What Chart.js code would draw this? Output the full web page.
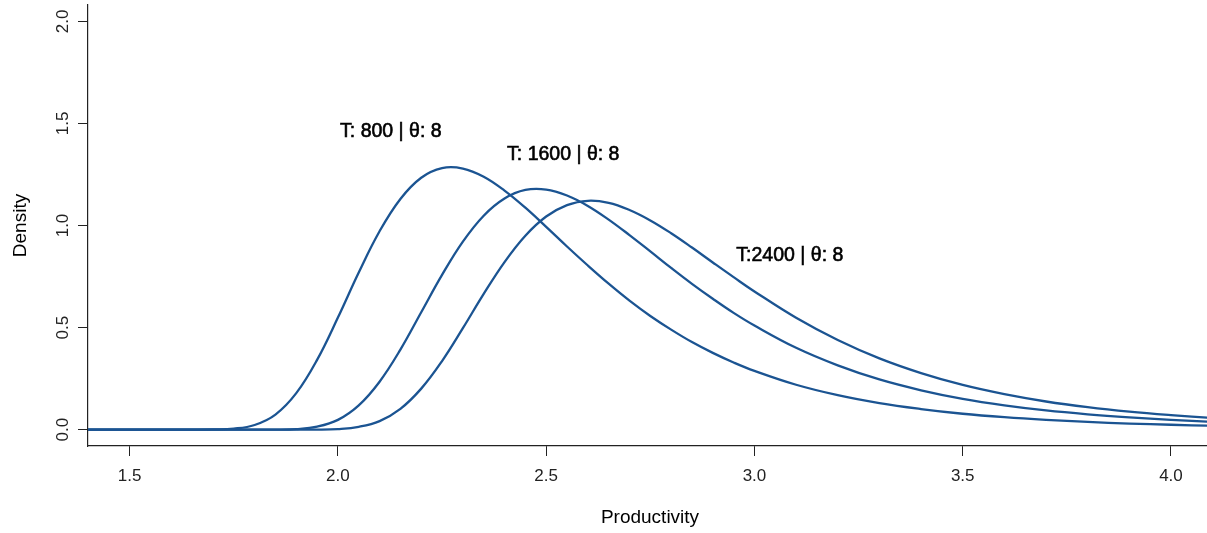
<!DOCTYPE html>
<html>
<head>
<meta charset="utf-8">
<script src="https://cdn.jsdelivr.net/npm/chart.js@4.4.1/dist/chart.umd.min.js"></script>
<style>
  html, body { margin: 0; padding: 0; background: #fff; }
  #wrap { width: 1207px; height: 533px; position: relative; }
</style>
</head>
<body>
<div id="wrap"><canvas id="c" width="1207" height="533"></canvas></div>
<script>
// ─── DATA ────────────────────────────────────────────
const productivity = [
  1.40, 1.45, 1.50, 1.55, 1.60, 1.65, 1.70, 1.75, 1.80, 1.85,
  1.90, 1.95, 2.00, 2.05, 2.10, 2.15, 2.20, 2.25, 2.30, 2.35,
  2.40, 2.45, 2.50, 2.55, 2.60, 2.65, 2.70, 2.75, 2.80, 2.85,
  2.90, 2.95, 3.00, 3.10, 3.20, 3.30, 3.40, 3.50, 3.60, 3.70,
  3.80, 3.90, 4.00, 4.10
];
const densityT800 = [
  0, 0, 0, 0, 0, 0, 0.001, 0.005, 0.023, 0.074,
  0.179, 0.342, 0.549, 0.770, 0.972, 1.130, 1.234, 1.281, 1.279, 1.239,
  1.171, 1.087, 0.993, 0.897, 0.804, 0.715, 0.632, 0.557, 0.490, 0.429,
  0.376, 0.329, 0.288, 0.220, 0.169, 0.130, 0.101, 0.078, 0.061, 0.048,
  0.038, 0.030, 0.024, 0.019
];
const densityT1600 = [
  0, 0, 0, 0, 0, 0, 0, 0, 0, 0,
  0.003, 0.015, 0.048, 0.119, 0.235, 0.392, 0.575, 0.758, 0.921, 1.048,
  1.132, 1.174, 1.176, 1.147, 1.096, 1.029, 0.953, 0.873, 0.792, 0.714,
  0.641, 0.572, 0.510, 0.401, 0.315, 0.246, 0.193, 0.151, 0.119, 0.094,
  0.075, 0.060, 0.048, 0.038
];
const densityT2400 = [
  0, 0, 0, 0, 0, 0, 0, 0, 0, 0,
  0, 0, 0.003, 0.014, 0.042, 0.102, 0.201, 0.336, 0.497, 0.665,
  0.821, 0.950, 1.044, 1.100, 1.121, 1.111, 1.076, 1.025, 0.962, 0.892,
  0.819, 0.747, 0.677, 0.548, 0.439, 0.349, 0.277, 0.219, 0.174, 0.138,
  0.110, 0.088, 0.071, 0.057
];
const xTicks = [1.5, 2.0, 2.5, 3.0, 3.5, 4.0];
const yTicks = [0.0, 0.5, 1.0, 1.5, 2.0];
const labelTexts = ['T: 800 | θ: 8', 'T: 1600 | θ: 8', 'T:2400 | θ: 8'];
const labelX = [2.127, 2.541, 3.085];
const labelY = [1.435, 1.323, 0.825];

// ─── STYLE ───────────────────────────────────────────
const LINE = '#1B5492';
const FONT = '"Liberation Sans", Arial, sans-serif';

const pts = ys => productivity.map((x, i) => ({ x, y: ys[i] }));
const series = ys => ({
  data: pts(ys),
  borderColor: LINE,
  borderWidth: 2.3,
  pointRadius: 0,
  fill: false,
  tension: 0.4
});

// rotated y labels, axis titles, curve labels
const extras = {
  id: 'extras',
  afterDraw(chart) {
    const { ctx, scales: { x, y }, chartArea } = chart;
    ctx.save();
    ctx.fillStyle = '#222';
    ctx.font = `17px ${FONT}`;
    ctx.textAlign = 'center';
    ctx.textBaseline = 'alphabetic';
    yTicks.forEach(v => {
      ctx.save();
      ctx.translate(68, y.getPixelForValue(v));
      ctx.rotate(-Math.PI / 2);
      ctx.fillText(v.toFixed(1), 0, 0);
      ctx.restore();
    });

    ctx.fillStyle = '#000';
    ctx.font = `19px ${FONT}`;
    ctx.fillText('Productivity', 650, 523);
    ctx.save();
    ctx.translate(26, (chartArea.top + chartArea.bottom) / 2);
    ctx.rotate(-Math.PI / 2);
    ctx.fillText('Density', 0, 0);
    ctx.restore();

    // medium weight: regular face with a thin outline
    ctx.font = `19.5px ${FONT}`;
    ctx.strokeStyle = '#000';
    ctx.lineWidth = 0.6;
    labelTexts.forEach((t, i) => {
      const px = x.getPixelForValue(labelX[i]);
      const py = y.getPixelForValue(labelY[i]);
      ctx.fillText(t, px, py);
      ctx.strokeText(t, px, py);
    });
    ctx.restore();
  }
};

new Chart(document.getElementById('c'), {
  type: 'line',
  data: {
    datasets: [series(densityT800), series(densityT1600), series(densityT2400)]
  },
  options: {
    responsive: false,
    animation: false,
    events: [],
    layout: { padding: { left: 0, right: 0, top: 5, bottom: 0 } },
    plugins: { legend: { display: false }, tooltip: { enabled: false } },
    scales: {
      x: {
        type: 'linear',
        min: 1.4,
        max: 4.0865,
        afterBuildTicks: s => { s.ticks = xTicks.map(v => ({ value: v })); },
        afterFit: s => { s.height = 87; },
        grid: { drawOnChartArea: false, drawTicks: true, tickLength: 10, color: '#222', lineWidth: 1 },
        border: { display: true, color: '#222', width: 1.2 },
        ticks: {
          color: '#222',
          font: { family: FONT, size: 17 },
          padding: 10,
          maxRotation: 0,
          autoSkip: false,
          callback: v => Number(v).toFixed(1)
        }
      },
      y: {
        type: 'linear',
        min: -0.08,
        max: 2.08,
        afterBuildTicks: s => { s.ticks = yTicks.map(v => ({ value: v })); },
        afterFit: s => { s.width = 88; },
        grid: { drawOnChartArea: false, drawTicks: true, tickLength: 10, color: '#222', lineWidth: 1 },
        border: { display: true, color: '#222', width: 1.2 },
        ticks: { display: false }
      }
    }
  },
  plugins: [extras]
});
</script>
</body>
</html>
